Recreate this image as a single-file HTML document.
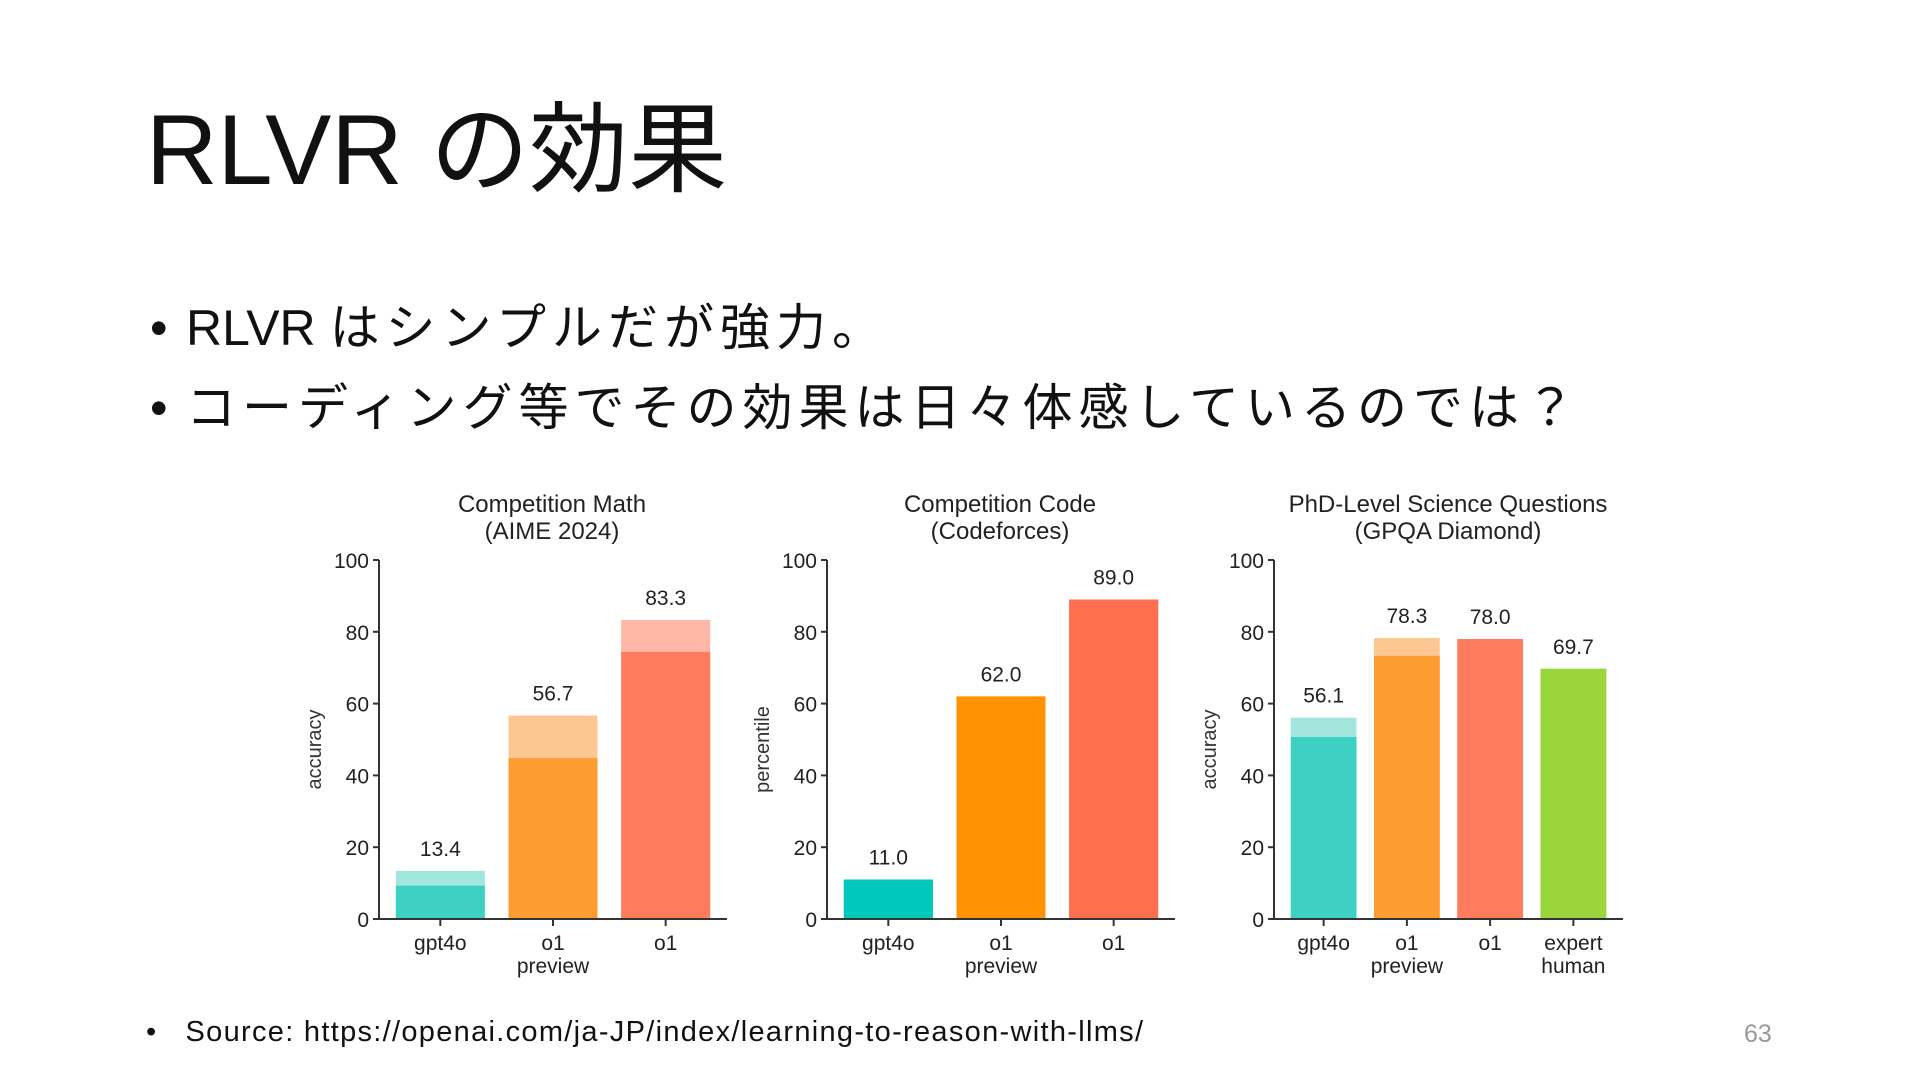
<!DOCTYPE html>
<html><head><meta charset="utf-8">
<style>
html,body{margin:0;padding:0;background:#fff;}
body{width:1920px;height:1080px;position:relative;overflow:hidden;font-family:"Liberation Sans","Noto Sans CJK JP",sans-serif;color:#111;}
.title{position:absolute;left:146px;top:100px;font-size:99px;line-height:1;font-family:"Liberation Sans","Noto Sans CJK JP",sans-serif;font-weight:400;}
.bullet{position:absolute;left:150px;font-size:50px;line-height:1;font-family:"Liberation Sans","Noto Sans CJK JP",sans-serif;}
.bullet .dot{display:inline-block;width:36px;}
.bullet .cj{letter-spacing:6px;}
.src{position:absolute;left:146px;top:1016px;font-size:29px;letter-spacing:1.3px;font-family:"Liberation Sans","Noto Sans CJK JP",sans-serif;}
.pg{position:absolute;left:1744px;top:1020px;font-size:25px;color:#999;}
svg{position:absolute;left:0;top:0;}
</style></head>
<body>
<div class="title">RLVR の効果</div>
<div class="bullet" style="top:303px"><span class="dot">•</span>RLVR <span class="cj">はシンプルだが強力。</span></div>
<div class="bullet" style="top:383px"><span class="dot">•</span><span class="cj">コーディング等でその効果は日々体感しているのでは？</span></div>
<div class="src">•&nbsp;&nbsp;&nbsp;Source: https://openai.com/ja-JP/index/learning-to-reason-with-llms/</div>
<div class="pg">63</div>
<svg id="charts" width="1920" height="1080"></svg>
<script>
const mathCats = [["gpt4o"],["o1","preview"],["o1"]];
const mathValues = [13.4, 56.7, 83.3];
const mathInner = [9.3, 44.8, 74.4];
const codeCats = [["gpt4o"],["o1","preview"],["o1"]];
const codeValues = [11.0, 62.0, 89.0];
const codeInner = [11.0, 62.0, 89.0];
const sciCats = [["gpt4o"],["o1","preview"],["o1"],["expert","human"]];
const sciValues = [56.1, 78.3, 78.0, 69.7];
const sciInner = [50.7, 73.3, 78.0, 69.7];
const yTicks = [0, 20, 40, 60, 80, 100];

const NS = "http://www.w3.org/2000/svg";
const svg = document.getElementById("charts");
function mk(tag, attrs, parent){
  const e = document.createElementNS(NS, tag);
  for (const k in attrs) e.setAttribute(k, attrs[k]);
  (parent||svg).appendChild(e); return e;
}
function drawChart(name, title, ylabel, cats, values, inner, dark, light, L){
  const g = mk("g", {});
  
  
  const y = v => L.y0 - (v/100)*(L.y0 - L.y100);
  const band = (L.x1 - L.x0) / cats.length;
  const bw = band * L.frac;
  const cx = i => L.x0 + band*(i+0.5);
  title.forEach((t,i)=>{
    const tx = mk("text",{x:L.tc,y:512+i*27,"text-anchor":"middle","font-size":24,fill:"#222"},g);
    tx.textContent = t;
    
    
  });
  const yl = mk("text",{x:0,y:0,"text-anchor":"middle","font-size":20,fill:"#333",transform:`translate(${L.ax-58},${(L.y0+L.y100)/2+10}) rotate(-90)`},g);
  yl.textContent = ylabel;
  
  
  values.forEach((v,i)=>{
    const x = cx(i) - bw/2;
    const b1 = mk("rect",{x:x,y:y(v),width:bw,height:y(0)-y(v),fill:light[i]},g);
    
    
    const b2 = mk("rect",{x:x,y:y(inner[i]),width:bw,height:y(0)-y(inner[i]),fill:dark[i]},g);
    
    
    const lb = mk("text",{x:cx(i),y:y(v)-15,"text-anchor":"middle","font-size":21,fill:"#222"},g);
    lb.textContent = v.toFixed(1);
    
    
    mk("line",{x1:cx(i),x2:cx(i),y1:L.y0,y2:L.y0+7,stroke:"#333","stroke-width":2},g);
    cats[i].forEach((c,j)=>{
      const t = mk("text",{x:cx(i),y:L.y0+31+j*23,"text-anchor":"middle","font-size":21,fill:"#222"},g);
      t.textContent = c;
      
      
    });
  });
  mk("line",{x1:L.ax,x2:L.ax,y1:L.y100,y2:L.y0,stroke:"#333","stroke-width":2},g);
  mk("line",{x1:L.ax-6,x2:L.xe,y1:L.y0,y2:L.y0,stroke:"#333","stroke-width":2},g);
  yTicks.forEach(t=>{
    mk("line",{x1:L.ax-6,x2:L.ax,y1:y(t),y2:y(t),stroke:"#333","stroke-width":2},g);
    const tl = mk("text",{x:L.ax-10,y:y(t)+8,"text-anchor":"end","font-size":21,fill:"#222"},g);
    tl.textContent = t;
    
    
  });
}
const teal="#3fd0c4", tealL="#a3e6de", org="#fd9c30", orgL="#fdc793", red="#ff7c5f", redL="#ffb8a5", grn="#9bd53c";
drawChart("chart-math",["Competition Math","(AIME 2024)"],"accuracy",mathCats,mathValues,mathInner,
  [teal,org,red],[tealL,orgL,redL],{ax:379,x0:384,x1:722,xe:727,y0:919,y100:560,frac:0.79,tc:552});
drawChart("chart-code",["Competition Code","(Codeforces)"],"percentile",codeCats,codeValues,codeInner,
  ["#00c8bb","#ff9200","#ff6f4f"],["#00c8bb","#ff9200","#ff6f4f"],{ax:827,x0:832,x1:1170,xe:1175,y0:919,y100:560,frac:0.79,tc:1000});
drawChart("chart-science",["PhD-Level Science Questions","(GPQA Diamond)"],"accuracy",sciCats,sciValues,sciInner,
  [teal,org,red,grn],[tealL,orgL,redL,grn],{ax:1274,x0:1282,x1:1615,xe:1623,y0:919,y100:560,frac:0.79,tc:1448});
</script>
</body></html>
